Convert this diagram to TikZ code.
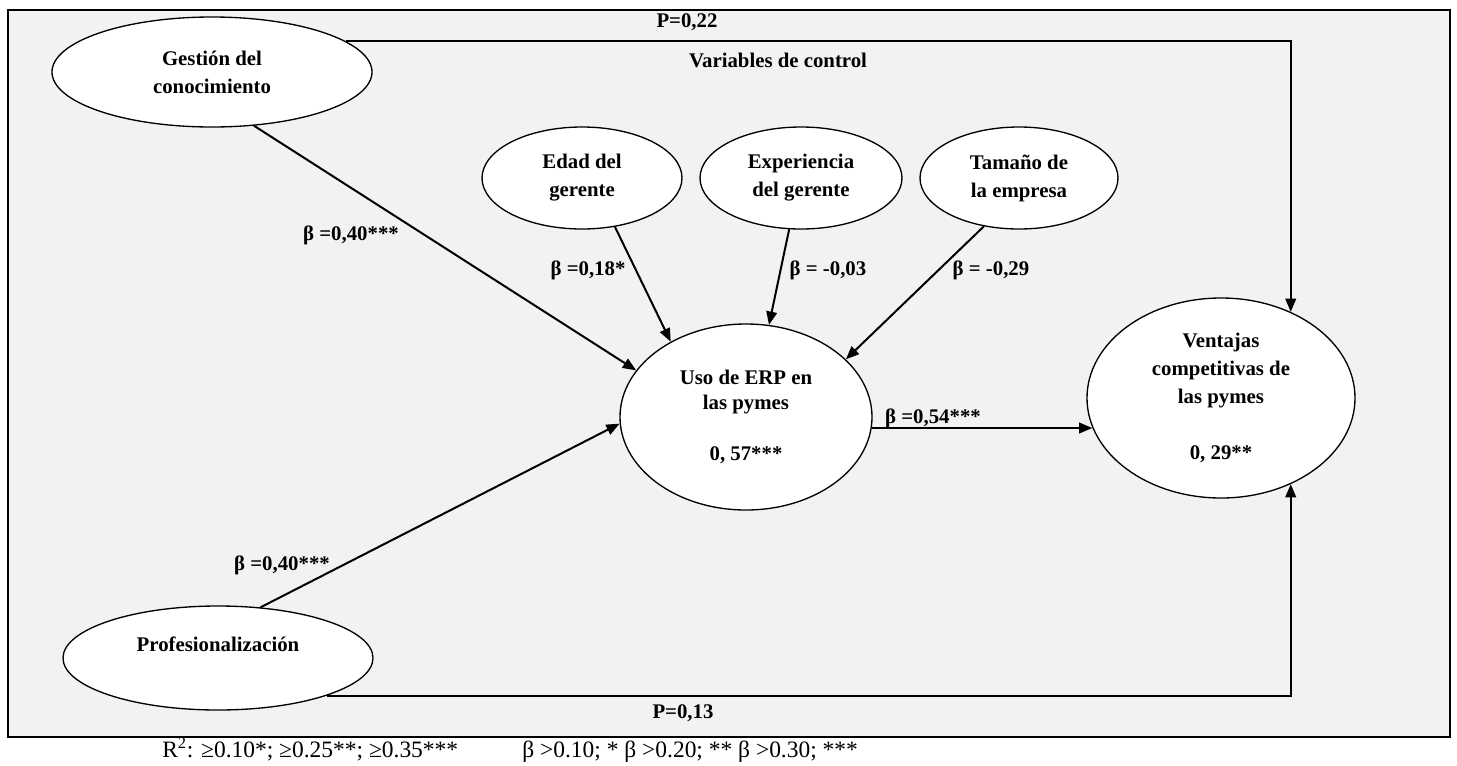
\documentclass[tikz,border=0pt]{standalone}
\usepackage{fontspec}
\setmainfont{Liberation Serif}
\usetikzlibrary{shapes.geometric,arrows.meta}
\begin{document}
\begin{tikzpicture}[x=0.75pt, y=-0.75pt, >={Triangle[length=10pt,width=8pt]},
  latent/.style={draw, ellipse, fill=white, line width=1pt, inner sep=0pt, align=center, font=\bfseries\fontsize{15.6}{21}\selectfont},
  effect/.style={->, line width=1.5pt},
  coef/.style={font=\bfseries\fontsize{15.6}{18}\selectfont, inner sep=1pt},
  legend/.style={font=\fontsize{17.6}{20}\selectfont, inner sep=0pt, anchor=base west}]
\useasboundingbox (0,0) rectangle (1457,765);
\draw[line width=1.7pt, fill=black!5] (8,10) rectangle (1450,737);
\node[latent, minimum width=240pt, minimum height=82.5pt] (gc) at (212,72) {Gestión del\\conocimiento};
\node[latent, minimum width=150pt, minimum height=76.5pt] (edad) at (582,178) {Edad del\\gerente};
\node[latent, minimum width=151.5pt, minimum height=76.5pt] (exper) at (801,178) {Experiencia\\del gerente};
\node[latent, minimum width=148.5pt, minimum height=76.5pt] (tam) at (1019,178) {Tamaño de\\la empresa};
\node[latent, minimum width=189pt, minimum height=139.5pt, font=\bfseries\fontsize{15.6}{19}\selectfont] (uso) at (746,417) {Uso de ERP en\\las pymes\\[19pt]0, 57***};
\node[latent, minimum width=201pt, minimum height=150pt] (vc) at (1221,398) {Ventajas\\competitivas de\\las pymes\\[21pt]0, 29**};
\node[latent, minimum width=232.5pt, minimum height=78pt] (prof) at (218,658) {Profesionalización\\ \mbox{}};
\draw[effect] (gc.-52) -- (uso.157);
\draw[effect] (prof.50) -- (uso.183);
\draw[effect] (edad.-56) -- (uso.135);
\draw[effect] (exper.-103) -- (uso.76);
\draw[effect] (tam.-126) -- (uso.30);
\draw[effect] (uso.-5) -- (uso.-5 -| vc.193);
\draw[effect] (gc.13) -| (vc.51);
\draw[effect] (prof.-19) -| (vc.-51);
\node[coef] (p1) at (687,22) {P=0,22};
\node[coef] (vars) at (778,60) {Variables de control};
\node[coef] (b1) at (351,235) {β =0,40***};
\node[coef] (b2) at (588,270) {β =0,18*};
\node[coef] (b3) at (828,270) {β = -0,03};
\node[coef] (b4) at (991,270) {β = -0,29};
\node[coef] (b5) at (933,418) {β =0,54***};
\node[coef] (b6) at (282,565) {β =0,40***};
\node[coef] (p2) at (683,713) {P=0,13};
\node[legend] (r2) at (162,757) {R\textsuperscript{2}: ≥0.10*; ≥0.25**; ≥0.35***};
\node[legend] (beta) at (522,757) {β >0.10; * β >0.20; ** β >0.30; ***};
\end{tikzpicture}
\end{document}
